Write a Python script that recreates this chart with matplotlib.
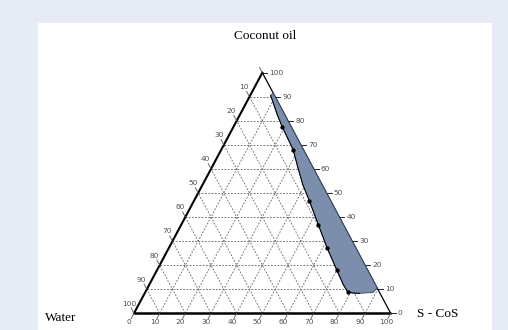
import matplotlib.pyplot as plt
from matplotlib.patches import Rectangle
import numpy as np

# ternary values: (water, coconut oil), S-CoS = 100 - both
boundary_water = [1.5, 3.0, 3.5, 4.0, 6.0, 7.5, 8.3, 9.8, 11.2, 12.0, 12.5, 12.3, 10.5, 8.0, 2.5, 0.0, 0.0]
boundary_oil = [90.5, 82.0, 77.6, 68.0, 60.0, 53.5, 46.8, 36.7, 27.0, 18.0, 12.0, 9.0, 8.4, 8.3, 8.7, 10.5, 91.5]
dot_water = [3.5, 4.0, 8.3, 9.8, 11.2, 12.0, 12.3]
dot_oil = [77.6, 68.0, 46.8, 36.7, 27.0, 18.0, 9.0]
tick_values = [0, 10, 20, 30, 40, 50, 60, 70, 80, 90, 100]
grid_levels = [10, 20, 30, 40, 50, 60, 70, 80, 90]


def tern(scos, oil):
    # S-CoS along the base, coconut oil to the top
    scos = np.asarray(scos, dtype=float)
    oil = np.asarray(oil, dtype=float)
    return scos / 100 + oil / 200, oil / 100


def main():
    fig = plt.figure(figsize=(5.08, 3.30), dpi=100, facecolor="#e7ebf5")
    ax = fig.add_axes([0, 0, 1, 1])
    ax.set_xlim(-0.522, 1.457)
    ax.set_ylim(-0.0694, 1.302)
    ax.axis("off")
    ax.add_patch(Rectangle((38 / 508, 0), (492 - 38) / 508, (330 - 23) / 330,
                           transform=fig.transFigure, facecolor="white",
                           edgecolor="none", zorder=0))

    # dashed grid
    gkw = dict(color="#6e6e6e", lw=0.65, ls=(0, (2, 1.6)), zorder=1)
    for v in grid_levels:
        x, y = tern([0, 100 - v], [v, v])
        ax.plot(x, y, **gkw)
        x, y = tern([v, v], [0, 100 - v])
        ax.plot(x, y, **gkw)
        x, y = tern([100 - v, 0], [0, 100 - v])
        ax.plot(x, y, **gkw)

    # triangle edges
    ax.plot(*tern([0, 100], [0, 0]), color="black", lw=1.8, zorder=3, solid_capstyle="butt")
    ax.plot(*tern([0, 0], [0, 100]), color="black", lw=1.5, zorder=3)
    ax.plot(*tern([100, 0], [0, 100]), color="black", lw=0.9, zorder=3)

    # ticks and labels
    tkw = dict(fontsize=5.3, color="#505050", family="DejaVu Sans")
    k = 0.022
    for v in tick_values:
        # right axis: coconut oil
        x, y = tern(100 - v, v)
        ax.plot([x, x + 0.02], [y, y], color="black", lw=0.6, zorder=3)
        ax.text(x + 0.028, y, str(v), ha="left", va="center", **tkw)
        # bottom axis: S-CoS
        x, y = tern(v, 0)
        ax.plot([x, x - 0.5 * k], [y, y - k], color="#555555", lw=0.6, zorder=3)
        ax.text(x - 0.5 * 0.037, y - 0.037, str(v), ha="center", va="center", **tkw)
        # left axis: water
        x, y = tern(0, 100 - v)
        ax.plot([x, x - 0.5 * k], [y, y + k], color="#555555", lw=0.6, zorder=3)
        if v > 0:
            ax.text(x - 0.5 * 0.04, y + 0.04, str(v), ha="center", va="center", **tkw)

    # shaded region
    scos = 100 - np.array(boundary_water) - np.array(boundary_oil)
    bx, by = tern(scos, boundary_oil)
    ax.fill(bx, by, facecolor="#7b8fad", edgecolor="#3d4f6b", lw=0.7, zorder=4)
    ax.plot(bx[:14], by[:14], color="black", lw=0.7, zorder=5)
    dscos = 100 - np.array(dot_water) - np.array(dot_oil)
    dx, dy = tern(dscos, dot_oil)
    ax.plot(dx, dy, "o", color="black", ms=2.1, zorder=6)

    # vertex names
    skw = dict(fontsize=9.5, family="Liberation Serif", color="black")
    ax.text(0.51, (313.3 - 36) / 240.6, "Coconut oil", ha="center", va="center", **skw)
    ax.text((61 - 134) / 256.7, (313.3 - 318) / 240.6, "Water", ha="center", va="center", **skw)
    ax.text((438 - 134) / 256.7, (313.3 - 314) / 240.6, "S - CoS", ha="center", va="center", **skw)

    fig.savefig("out.png", dpi=100, facecolor=fig.get_facecolor())


if __name__ == "__main__":
    main()
